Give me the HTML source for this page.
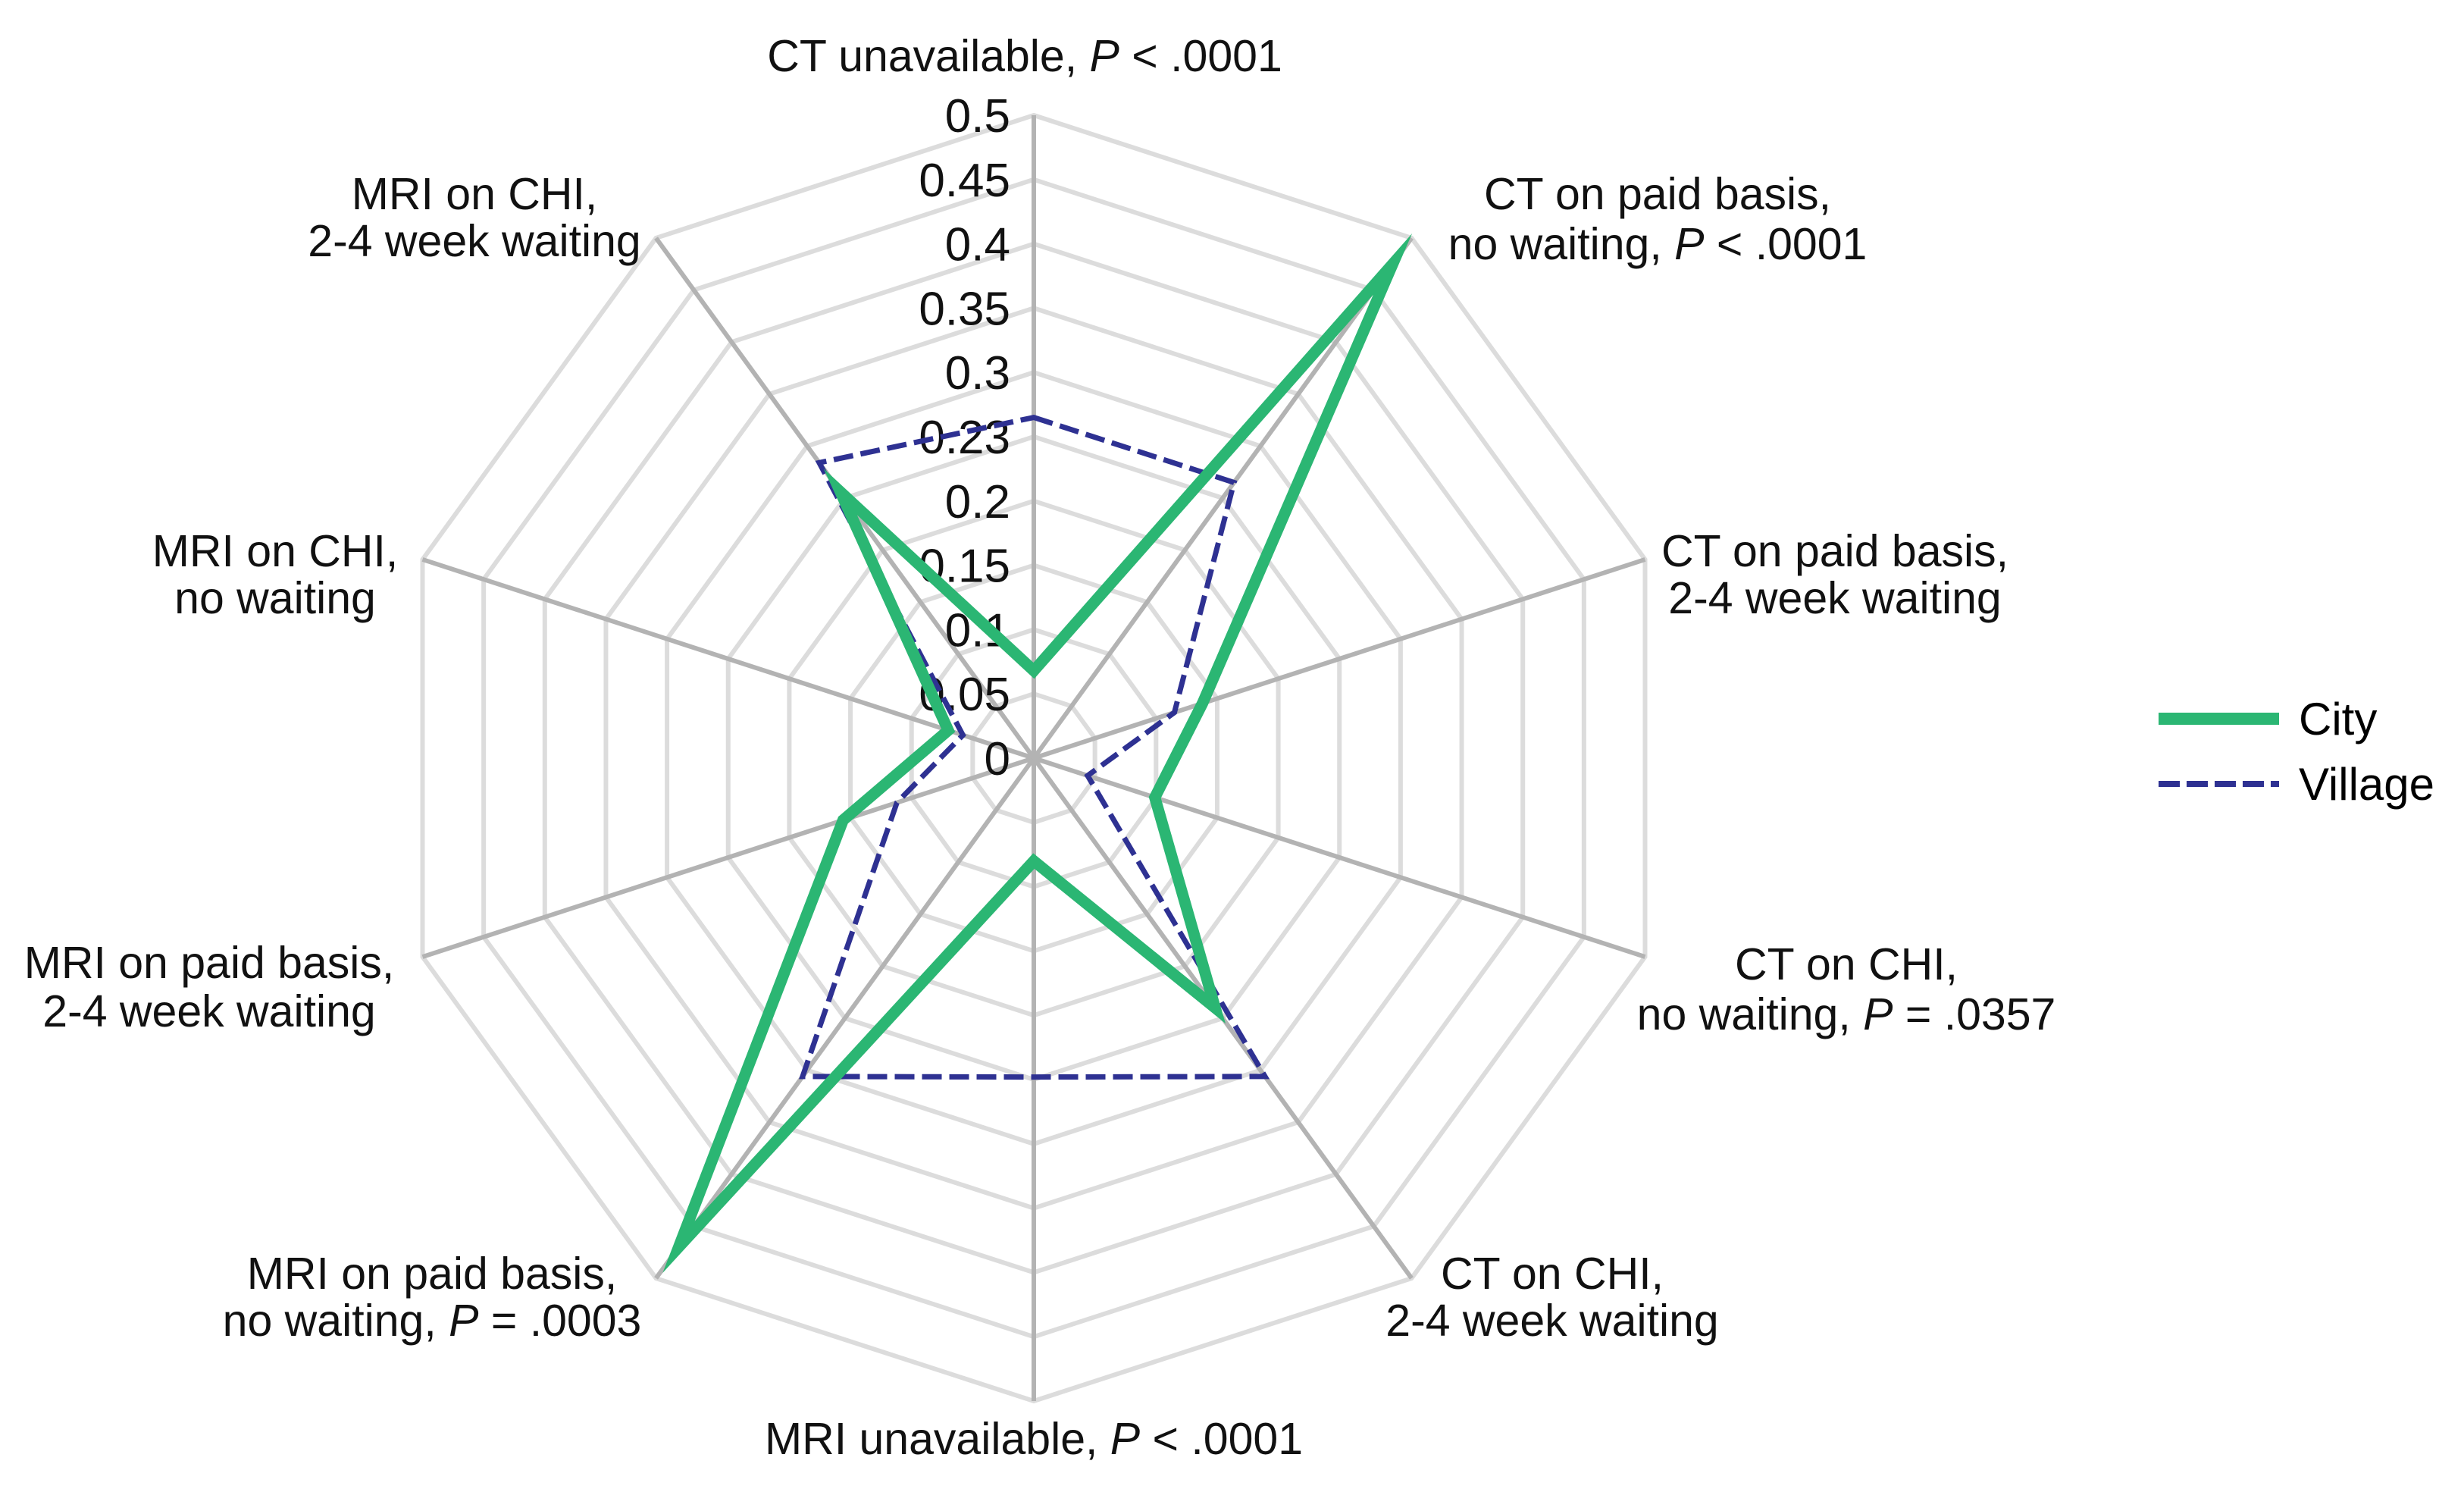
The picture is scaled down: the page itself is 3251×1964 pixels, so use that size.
<!DOCTYPE html>
<html><head><meta charset="utf-8"><style>
html,body{margin:0;padding:0;background:#fff;}
svg{display:block;font-family:"Liberation Sans",Arial,sans-serif;}
</style></head><body>
<svg id="chart" width="3251" height="1964" viewBox="0 0 3251 1964">
<g id="grid"></g>
<g id="spokes"></g>
<g id="ticks"></g>
<g id="series"></g>
<g id="cats"></g>
<g>
  <line x1="2848" y1="948" x2="3007" y2="948" stroke="#2bb673" stroke-width="16"/>
  <text x="3033" y="969" font-size="60">City</text>
  <line x1="2848" y1="1034" x2="3007" y2="1034" stroke="#2e3192" stroke-width="8" stroke-dasharray="28,9"/>
  <text x="3033" y="1055" font-size="60">Village</text>
</g>
</svg>
<script>
const categories = ["CT unavailable","CT on paid basis, no waiting","CT on paid basis, 2-4 week waiting","CT on CHI, no waiting","CT on CHI, 2-4 week waiting","MRI unavailable","MRI on paid basis, no waiting","MRI on paid basis, 2-4 week waiting","MRI on CHI, no waiting","MRI on CHI, 2-4 week waiting"];
const cityValues = [0.068,0.475,0.138,0.099,0.24,0.08,0.47,0.156,0.07,0.256];
const villageValues = [0.265,0.265,0.115,0.044,0.306,0.248,0.306,0.112,0.058,0.284];
const tickValues = [0,0.05,0.1,0.15,0.2,0.25,0.3,0.35,0.4,0.45,0.5];
const tickLabels = ["0","0.05","0.1","0.15","0.2","0.23","0.3","0.35","0.4","0.45","0.5"];
const labelLines = [["CT unavailable, |P| < .0001"],["CT on paid basis,","no waiting, |P| < .0001"],["CT on paid basis,","2-4 week waiting"],["CT on CHI,","no waiting, |P| = .0357"],["CT on CHI,","2-4 week waiting"],["MRI unavailable, |P| < .0001"],["MRI on paid basis,","no waiting, |P| = .0003"],["MRI on paid basis,","2-4 week waiting"],["MRI on CHI,","no waiting"],["MRI on CHI,","2-4 week waiting"]];

const NS="http://www.w3.org/2000/svg";
const cx=1364, cy=1000, R=848, maxV=0.5;
const n=categories.length;
function ang(i){return (i*360/n-90)*Math.PI/180;}
function rScale(v){return v/maxV*R;}
function pt(i,v){const a=ang(i),r=rScale(v);return [cx+r*Math.cos(a),cy+r*Math.sin(a)];}
function mk(tag,attrs){const e=document.createElementNS(NS,tag);for(const k in attrs)e.setAttribute(k,attrs[k]);return e;}

const grid=document.getElementById('grid');
tickValues.forEach((t,k)=>{
  if(t===0)return;
  const pts=categories.map((c,i)=>pt(i,t).join(',')).join(' ');
  const p=mk('polygon',{points:pts,fill:'none',stroke:'#dcdcdc','stroke-width':6});
  
  
  grid.appendChild(p);
});
const spokes=document.getElementById('spokes');
categories.forEach((c,i)=>{
  const [x,y]=pt(i,maxV);
  const l=mk('line',{x1:cx,y1:cy,x2:x,y2:y,stroke:'#b3b3b3','stroke-width':6});
  
  
  spokes.appendChild(l);
});
const ticks=document.getElementById('ticks');
tickValues.forEach((t,k)=>{
  const tx=mk('text',{x:1333,y:cy-rScale(t)+22,'text-anchor':'end','font-size':62,fill:'#111'});
  tx.textContent=tickLabels[k];
  
  
  ticks.appendChild(tx);
});
const series=document.getElementById('series');
function drawSeries(vals,color,w,dash,name){
  const pts=vals.map((v,i)=>pt(i,v).join(',')).join(' ');
  const p=mk('polygon',{points:pts,fill:'none',stroke:color,'stroke-width':w,'stroke-linejoin':'miter','stroke-miterlimit':10});
  if(dash)p.setAttribute('stroke-dasharray',dash);
  
  
  series.appendChild(p);
}
drawSeries(villageValues,'#2e3192',7,'26,10','village-series');
drawSeries(cityValues,'#2bb673',15,null,'city-series');

const labelPos=[[1352,[73]],[2187,[255,321]],[2421,[726,788]],[2436,[1271,1337]],[2048,[1679,1741]],[1364,[1897]],[570,[1679,1741]],[276,[1269,1333]],[363,[726,788]],[626,[255,317]]];
const cats=document.getElementById('cats');
labelLines.forEach((lines,i)=>{
  const g=mk('g',{});
  
  
  lines.forEach((ln,j)=>{
    const t=mk('text',{x:labelPos[i][0],y:labelPos[i][1][j]+21,'text-anchor':'middle','font-size':59,fill:'#111'});
    const parts=ln.split('|');
    parts.forEach((p,k)=>{
      const s=mk('tspan',{});
      if(k===1)s.setAttribute('font-style','italic');
      s.textContent=p;
      t.appendChild(s);
    });
    g.appendChild(t);
  });
  cats.appendChild(g);
});
</script>
</body></html>
